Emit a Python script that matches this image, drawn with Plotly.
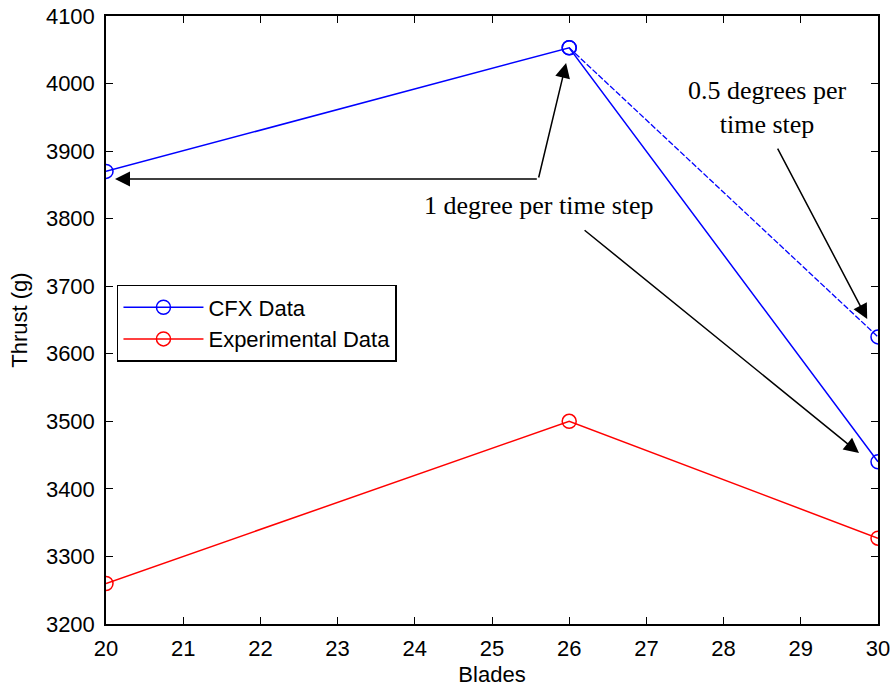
import plotly.graph_objects as go

blades = [20, 26, 30]
cfx_thrust = [3870, 4053, 3440]
cfx_half_blades = [26, 30]
cfx_half_thrust = [4053, 3625]
exp_thrust = [3260, 3500, 3327]

x_ticks = list(range(20, 31))
y_ticks = list(range(3200, 4101, 100))

fig = go.Figure()
fig.add_trace(go.Scatter(x=blades, y=cfx_thrust, mode="lines+markers", name="CFX Data",
                         line=dict(color="#0000ff", width=1.5),
                         marker=dict(symbol="circle-open", size=14, color="#0000ff", line=dict(width=1.5))))
fig.add_trace(go.Scatter(x=cfx_half_blades, y=cfx_half_thrust, mode="lines+markers", showlegend=False,
                         line=dict(color="#0000ff", width=1.3, dash="6px,2px"),
                         marker=dict(symbol="circle-open", size=14, color="#0000ff", line=dict(width=1.5))))
fig.add_trace(go.Scatter(x=blades, y=exp_thrust, mode="lines+markers", name="Experimental Data",
                         line=dict(color="#ff0000", width=1.5),
                         marker=dict(symbol="circle-open", size=14, color="#ff0000", line=dict(width=1.5))))

serif = "Liberation Serif, Times New Roman, serif"
sans = "Liberation Sans, Arial, sans-serif"

arrow_common = dict(xref="x", yref="y", axref="x", ayref="y", showarrow=True, text="",
                    arrowhead=2, arrowsize=2.0, arrowwidth=1.5, arrowcolor="black", standoff=0)
annotations = [
    dict(x=20.117, y=3858.7, ax=25.60, ay=3858.7, **arrow_common),
    dict(x=25.96, y=4030.4, ax=25.60, ay=3858.7, **arrow_common),
    dict(x=29.754, y=3453.1, ax=26.18, ay=3784.7, **arrow_common),
    dict(x=29.86, y=3651.5, ax=28.69, ay=3906.0, **arrow_common),
    dict(x=25.61, y=3820.2, xref="x", yref="y", showarrow=False, text="1 degree per time step",
         font=dict(family=serif, size=26, color="black")),
    dict(x=28.56, y=3965.3, xref="x", yref="y", showarrow=False, text="0.5 degrees per<br>time step",
         font=dict(family=serif, size=26, color="black")),
]

axis_common = dict(showline=True, linecolor="black", linewidth=1.5, mirror="ticks", ticks="inside",
                   ticklen=7, tickwidth=1, tickcolor="black", showgrid=False, zeroline=False,
                   automargin=False,
                   tickfont=dict(family=sans, size=22, color="black"))

fig.update_layout(
    width=894, height=688,
    margin=dict(l=106, r=16, t=16, b=64),
    paper_bgcolor="white", plot_bgcolor="white",
    xaxis=dict(range=[20, 30], tickvals=x_ticks, ticklabelstandoff=4,
               title=dict(text="Blades", standoff=6, font=dict(family=sans, size=22, color="black")),
               **axis_common),
    yaxis=dict(range=[3200, 4100], tickvals=y_ticks, ticklabelstandoff=5,
               title=dict(text="Thrust (g)", standoff=12, font=dict(family=sans, size=22, color="black")),
               **axis_common),
    legend=dict(x=0.0142, y=0.5576, xanchor="left", yanchor="top", bgcolor="white",
                bordercolor="black", borderwidth=1.5, itemwidth=80,
                font=dict(family=sans, size=22, color="black"), tracegroupgap=0),
    annotations=annotations,
    showlegend=True,
)

fig.write_html("out.html", config={"displayModeBar": False},
               post_script="document.body.style.margin='0';document.body.style.overflow='hidden';")
